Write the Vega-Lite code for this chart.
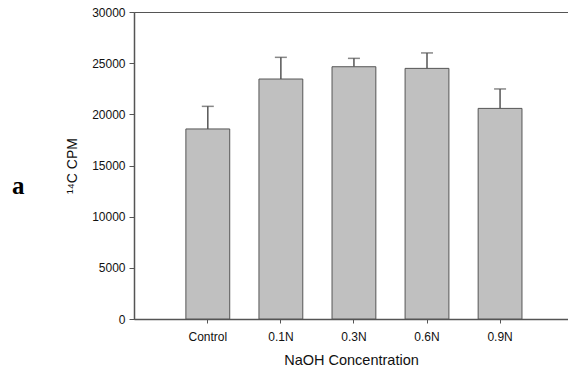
{
  "$schema": "https://vega.github.io/schema/vega-lite/v6.json",
  "autosize": {"type": "none"},
  "padding": {"left": 134, "top": 12, "right": 0, "bottom": 54},
  "width": 434,
  "height": 307,
  "background": "white",
  "title": {
    "text": "a",
    "orient": "left",
    "angle": 0,
    "anchor": "middle",
    "font": "Liberation Serif",
    "fontWeight": "bold",
    "fontSize": 25,
    "color": "#000",
    "offset": 35,
    "dy": 8
  },
  "config": {
    "view": {"stroke": "#555", "strokeWidth": 1},
    "axis": {
      "labelFont": "Liberation Sans",
      "titleFont": "Liberation Sans",
      "labelColor": "#111",
      "titleColor": "#111",
      "domainColor": "#555",
      "tickColor": "#555",
      "grid": false,
      "labelFontSize": 12,
      "titleFontWeight": "normal"
    }
  },
  "data": {
    "values": [
      {"group": "Control", "cpm": 18570, "upper": 20780},
      {"group": "0.1N", "cpm": 23450, "upper": 25570},
      {"group": "0.3N", "cpm": 24650, "upper": 25470},
      {"group": "0.6N", "cpm": 24490, "upper": 26000},
      {"group": "0.9N", "cpm": 20580, "upper": 22480}
    ]
  },
  "encoding": {
    "x": {
      "field": "group",
      "type": "nominal",
      "sort": null,
      "scale": {"paddingInner": 0.4, "paddingOuter": 0.67, "align": 0.53},
      "axis": {
        "title": "NaOH Concentration",
        "titleFontSize": 14.5,
        "titlePadding": 11,
        "labelAngle": 0,
        "labelPadding": 8,
        "tickSize": 4,
        "domainWidth": 1.5
      }
    }
  },
  "layer": [
    {
      "mark": {"type": "rule", "color": "#555", "strokeWidth": 1.5},
      "encoding": {
        "y": {"field": "cpm", "type": "quantitative"},
        "y2": {"field": "upper"}
      }
    },
    {
      "mark": {"type": "tick", "color": "#555", "thickness": 1.5, "size": 12, "orient": "horizontal"},
      "encoding": {
        "y": {"field": "upper", "type": "quantitative"}
      }
    },
    {
      "mark": {"type": "bar", "fill": "#c0c0c0", "stroke": "#555", "strokeWidth": 1},
      "encoding": {
        "y": {
          "field": "cpm",
          "type": "quantitative",
          "scale": {"domain": [0, 30000], "nice": false},
          "axis": {
            "title": "¹⁴C CPM",
            "titleFontSize": 14,
            "titlePadding": 12,
            "values": [0, 5000, 10000, 15000, 20000, 25000, 30000],
            "format": "d",
            "tickSize": 5,
            "labelPadding": 4,
            "domainWidth": 1.5
          }
        }
      }
    }
  ]
}
